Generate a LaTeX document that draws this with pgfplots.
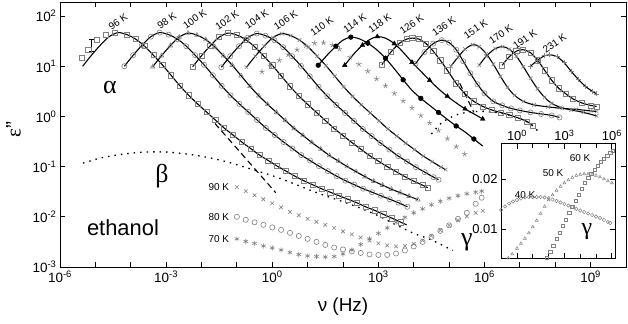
\documentclass[border=0pt]{standalone}
\usepackage{fontspec}
\setmainfont{Liberation Sans}
\newfontfamily\grk{Liberation Serif}
\usepackage{pgfplots}
\pgfplotsset{compat=1.18}
\usepackage{pgfplotstable}
\definecolor{dg}{gray}{0.5}

% x = log10(nu/Hz), y = log10(eps'')
\pgfplotstableread{
x y
-5.36 1.00
-5.11 1.22
-4.86 1.42
-4.61 1.59
-4.36 1.67
-4.11 1.63
-3.86 1.54
-3.61 1.40
-3.36 1.22
-3.11 1.03
-2.86 0.82
-2.61 0.61
-2.36 0.42
-2.11 0.25
-1.86 0.09
-1.61 -0.07
-1.36 -0.23
-1.11 -0.37
-0.86 -0.51
-0.61 -0.64
-0.36 -0.77
-0.11 -0.88
0.14 -0.99
0.39 -1.09
0.64 -1.19
0.89 -1.28
1.14 -1.36
1.39 -1.44
1.64 -1.51
1.89 -1.58
2.14 -1.65
2.39 -1.72
2.64 -1.80
2.89 -1.87
3.14 -1.95
3.39 -2.03
3.64 -2.11
3.80 -2.16
}\tA
\pgfplotstableread{
x y
-5.38 1.17
-5.20 1.33
-4.95 1.53
-4.70 1.62
-4.45 1.67
-4.11 1.63
-3.86 1.54
-3.61 1.40
-3.36 1.22
-3.11 1.03
-2.86 0.82
-2.61 0.61
-2.36 0.42
-2.11 0.25
-1.86 0.09
-1.61 -0.07
-1.36 -0.23
-1.11 -0.37
-0.86 -0.51
-0.61 -0.64
-0.36 -0.77
-0.11 -0.88
0.14 -0.99
0.39 -1.09
0.64 -1.19
0.89 -1.28
1.14 -1.36
1.39 -1.44
1.64 -1.51
1.89 -1.58
2.14 -1.65
2.39 -1.72
2.64 -1.80
2.89 -1.87
3.14 -1.95
3.39 -2.03
3.64 -2.11
}\dA
\pgfplotstableread{
x y
-4.18 1.00
-3.93 1.22
-3.68 1.42
-3.43 1.59
-3.18 1.67
-2.93 1.63
-2.68 1.54
-2.43 1.40
-2.18 1.22
-1.93 1.03
-1.68 0.82
-1.43 0.61
-1.18 0.42
-0.93 0.25
-0.68 0.09
-0.43 -0.07
-0.18 -0.23
0.07 -0.37
0.32 -0.51
0.57 -0.64
0.82 -0.77
1.07 -0.88
1.32 -0.99
1.57 -1.09
1.82 -1.19
2.07 -1.28
2.32 -1.36
2.57 -1.44
2.82 -1.51
3.07 -1.58
3.32 -1.65
3.57 -1.72
3.82 -1.80
}\tB
\pgfplotstableread{
x y
-3.38 0.99
-3.13 1.21
-2.88 1.41
-2.63 1.58
-2.38 1.66
-2.13 1.62
-1.88 1.53
-1.63 1.39
-1.38 1.21
-1.13 1.02
-0.88 0.81
-0.63 0.60
-0.38 0.41
-0.13 0.24
0.12 0.08
0.37 -0.08
0.62 -0.24
0.87 -0.38
1.12 -0.52
1.37 -0.65
1.62 -0.78
1.87 -0.89
2.12 -1.00
2.37 -1.10
2.62 -1.20
2.87 -1.29
3.12 -1.37
3.37 -1.45
3.62 -1.52
3.87 -1.59
4.12 -1.66
}\tC
\pgfplotstableread{
x y
-2.25 0.99
-2.00 1.21
-1.75 1.41
-1.50 1.58
-1.25 1.66
-1.00 1.62
-0.75 1.53
-0.50 1.39
-0.25 1.21
0.00 1.02
0.25 0.81
0.50 0.60
0.75 0.41
1.00 0.24
1.25 0.08
1.50 -0.08
1.75 -0.24
2.00 -0.38
2.25 -0.52
2.50 -0.65
2.75 -0.78
3.00 -0.89
3.25 -1.00
3.50 -1.10
3.75 -1.20
4.00 -1.29
4.25 -1.37
4.40 -1.42
}\tD
\pgfplotstableread{
x y
-1.44 0.98
-1.19 1.20
-0.94 1.40
-0.69 1.57
-0.44 1.65
-0.19 1.61
0.06 1.52
0.31 1.38
0.56 1.20
0.81 1.01
1.06 0.80
1.31 0.59
1.56 0.40
1.81 0.23
2.06 0.07
2.31 -0.09
2.56 -0.25
2.81 -0.39
3.06 -0.53
3.31 -0.66
3.56 -0.79
3.81 -0.90
4.06 -1.01
4.31 -1.11
4.56 -1.21
4.70 -1.26
}\tE
\pgfplotstableread{
x y
-0.73 0.98
-0.48 1.20
-0.23 1.40
0.02 1.57
0.27 1.65
0.52 1.61
0.77 1.52
1.02 1.38
1.27 1.20
1.52 1.01
1.77 0.80
2.02 0.59
2.27 0.40
2.52 0.23
2.77 0.07
3.02 -0.09
3.27 -0.25
3.52 -0.39
3.77 -0.53
4.02 -0.66
4.27 -0.79
4.52 -0.90
4.77 -1.01
4.90 -1.06
}\tF
\pgfplotstableread{
x y
-0.29 0.89
-0.05 1.00
0.20 1.12
0.45 1.23
0.70 1.33
0.95 1.41
1.20 1.46
1.45 1.47
1.70 1.42
1.90 1.34
2.20 1.18
2.45 1.04
2.70 0.90
2.95 0.75
3.20 0.61
3.45 0.46
3.70 0.31
3.95 0.17
4.20 0.02
4.45 -0.13
4.70 -0.28
4.95 -0.44
5.20 -0.60
5.44 -0.75
}\tG
\pgfplotstableread{
x y
1.30 1.02
1.55 1.22
1.80 1.40
2.00 1.52
2.22 1.58
2.45 1.55
2.70 1.46
2.95 1.33
3.20 1.16
3.45 0.95
3.70 0.73
3.95 0.52
4.20 0.36
4.45 0.22
4.70 0.08
4.95 -0.06
5.20 -0.19
5.45 -0.31
5.70 -0.45
5.95 -0.59
}\tH
\pgfplotstableread{
x y
2.05 1.02
2.30 1.24
2.55 1.42
2.75 1.53
2.97 1.59
3.20 1.56
3.45 1.45
3.70 1.28
3.95 1.08
4.20 0.90
4.45 0.72
4.70 0.55
4.95 0.40
5.20 0.27
5.45 0.15
5.70 0.05
5.95 -0.05
}\tI
\pgfplotstableread{
x y
3.10 1.03
3.35 1.28
3.60 1.46
3.80 1.54
3.96 1.56
4.15 1.54
4.35 1.45
4.55 1.30
4.75 1.12
4.95 0.92
5.20 0.66
5.45 0.45
5.70 0.30
5.95 0.20
6.20 0.13
6.45 0.08
6.70 0.03
6.95 -0.03
7.20 -0.10
7.36 -0.18
}\tJ
\pgfplotstableread{
x y
4.05 1.05
4.30 1.28
4.55 1.45
4.79 1.52
5.00 1.47
5.20 1.33
5.40 1.10
5.60 0.86
5.80 0.64
6.00 0.46
6.25 0.30
6.50 0.22
6.75 0.16
7.00 0.12
7.30 0.08
7.60 0.05
7.90 0.02
8.12 -0.02
}\tK
\pgfplotstableread{
x y
5.05 1.00
5.25 1.18
5.45 1.34
5.67 1.43
5.85 1.39
6.05 1.25
6.25 1.04
6.45 0.80
6.65 0.58
6.85 0.42
7.10 0.30
7.40 0.23
7.80 0.19
8.20 0.16
8.60 0.14
9.00 0.11
9.17 0.10
}\tL
\pgfplotstableread{
x y
5.85 1.02
6.05 1.20
6.30 1.35
6.51 1.39
6.70 1.34
6.90 1.20
7.10 0.99
7.30 0.76
7.50 0.55
7.70 0.38
7.90 0.26
8.15 0.18
8.45 0.13
8.80 0.08
9.17 0.01
}\tM
\pgfplotstableread{
x y
6.50 1.02
6.70 1.19
6.90 1.30
7.08 1.33
7.30 1.27
7.50 1.12
7.70 0.92
7.90 0.72
8.10 0.56
8.30 0.45
8.50 0.35
8.75 0.27
9.00 0.22
9.17 0.20
}\tN
\pgfplotstableread{
x y
7.30 1.00
7.50 1.12
7.70 1.21
7.84 1.23
8.05 1.19
8.25 1.07
8.45 0.90
8.65 0.74
8.85 0.60
9.05 0.50
9.17 0.45
}\tO
% low temperature data
\pgfplotstableread{
x y
-1.00 -1.41
-0.75 -1.49
-0.50 -1.57
-0.25 -1.65
0.00 -1.73
0.25 -1.81
0.50 -1.90
0.75 -1.97
1.00 -2.04
1.25 -2.10
1.50 -2.16
1.75 -2.22
2.00 -2.29
2.25 -2.35
2.50 -2.41
2.75 -2.47
3.00 -2.53
3.25 -2.57
3.50 -2.59
3.75 -2.58
4.00 -2.54
4.25 -2.47
4.50 -2.38
4.75 -2.27
5.00 -2.17
5.25 -2.07
5.50 -1.99
5.75 -1.92
5.95 -1.88
}\lNinety
\pgfplotstableread{
x y
-1.00 -2.00
-0.75 -2.06
-0.50 -2.11
-0.25 -2.16
0.00 -2.21
0.25 -2.26
0.50 -2.32
0.75 -2.38
1.00 -2.44
1.25 -2.50
1.50 -2.56
1.75 -2.61
2.00 -2.65
2.25 -2.69
2.50 -2.72
2.75 -2.75
3.00 -2.76
3.25 -2.76
3.50 -2.73
3.75 -2.67
4.00 -2.59
4.25 -2.50
4.50 -2.40
4.75 -2.28
5.00 -2.17
5.25 -2.04
5.50 -1.92
5.75 -1.74
5.92 -1.62
}\lEighty
\pgfplotstableread{
x y
-1.00 -2.44
-0.75 -2.49
-0.50 -2.53
-0.25 -2.58
0.00 -2.62
0.25 -2.66
0.50 -2.71
0.75 -2.75
1.00 -2.78
1.25 -2.79
1.50 -2.80
1.75 -2.79
2.00 -2.74
2.25 -2.66
2.50 -2.55
2.75 -2.44
3.00 -2.33
3.25 -2.22
3.50 -2.11
3.75 -2.01
4.00 -1.92
4.25 -1.84
4.50 -1.76
4.75 -1.69
5.00 -1.63
5.25 -1.58
5.50 -1.54
5.75 -1.51
5.92 -1.49
}\lSeventy
\pgfplotstableread{
x y
-5.35 -0.93
-4.80 -0.82
-4.20 -0.75
-3.60 -0.71
-3.00 -0.71
-2.40 -0.75
-1.80 -0.82
-1.20 -0.92
-0.60 -1.05
0.00 -1.18
0.50 -1.31
1.00 -1.45
1.50 -1.58
2.00 -1.70
2.50 -1.83
3.00 -1.98
3.50 -2.16
4.00 -2.33
4.50 -2.46
5.10 -2.67
}\betaLow
\pgfplotstableread{
x y
4.50 -0.35
4.80 -0.12
5.20 0.03
5.60 0.09
6.00 0.10
6.50 0.06
7.00 -0.04
7.30 -0.15
7.56 -0.33
}\betaHigh
% inset (x = log10 nu, y = eps'')
\pgfplotstableread{
x y
-1.00 0.0138
-0.75 0.0145
-0.50 0.0151
-0.25 0.0155
0.00 0.0158
0.25 0.0161
0.50 0.0163
0.75 0.0164
1.00 0.0164
1.25 0.0164
1.50 0.0164
1.75 0.0163
2.00 0.0162
2.25 0.0159
2.50 0.0156
2.75 0.0153
3.00 0.0150
3.25 0.0147
3.50 0.0144
3.75 0.0140
4.00 0.0137
4.25 0.0134
4.50 0.0131
4.75 0.0128
5.00 0.0125
5.25 0.0122
5.50 0.0118
5.75 0.0114
5.90 0.0112
}\iForty
\pgfplotstableread{
x y
-0.55 0.0042
-0.30 0.0050
0.00 0.0061
0.25 0.0071
0.50 0.0081
0.75 0.0092
1.00 0.0104
1.25 0.0117
1.50 0.0131
1.75 0.0145
2.00 0.0158
2.25 0.0168
2.50 0.0177
2.75 0.0185
3.00 0.0192
3.25 0.0198
3.50 0.0203
3.75 0.0207
4.00 0.0209
4.25 0.0210
4.50 0.0210
4.75 0.0209
5.00 0.0207
5.25 0.0204
5.50 0.0200
5.75 0.0196
6.00 0.0192
}\iFifty
\pgfplotstableread{
x y
1.90 0.0043
2.10 0.0055
2.30 0.0067
2.50 0.0080
2.70 0.0093
2.90 0.0106
3.10 0.0119
3.30 0.0132
3.50 0.0145
3.70 0.0157
3.90 0.0169
4.10 0.0181
4.30 0.0192
4.50 0.0202
4.70 0.0211
4.90 0.0219
5.10 0.0227
5.30 0.0234
5.50 0.0241
5.70 0.0247
5.90 0.0253
6.05 0.0257
}\iSixty

\begin{document}
\begin{tikzpicture}
\useasboundingbox (-60bp,-57bp) rectangle (568bp,267bp);
\begin{axis}[
  at={(0,0)}, anchor=south west,
  scale only axis, width=566bp, height=265bp,
  xmin=-6, xmax=10, ymin=-3, ymax=2.28,
  xtick={-6,-3,0,3,6,9},
  xticklabels={10\textsuperscript{-6},10\textsuperscript{-3},10\textsuperscript{0},10\textsuperscript{3},10\textsuperscript{6},10\textsuperscript{9}},
  minor xtick={-5,-4,-2,-1,1,2,4,5,7,8,10},
  ytick={-3,-2,-1,0,1,2},
  yticklabels={10\textsuperscript{-3},10\textsuperscript{-2},10\textsuperscript{-1},10\textsuperscript{0},10\textsuperscript{1},10\textsuperscript{2}},
  scaled ticks=false,
  tick label style={font=\fontsize{13.5}{15}\selectfont},
  major tick length=5bp, minor tick length=5bp,
  every tick/.style={black, line width=0.8pt},
  axis line style={line width=1pt},
  xlabel={ν (Hz)},
  xlabel style={font=\fontsize{19}{22}\selectfont, at={(axis description cs:0.5,-0.151)}, anchor=center},
  ylabel={{\grk ε}\char34},
  ylabel style={font=\fontsize{21}{23}\selectfont, at={(axis description cs:-0.082,0.52)}, anchor=center},
  gm/.style={dg, only marks, mark size=2.6pt, mark options={line width=0.6pt, fill=white}},
  fit/.style={black, line width=1.1pt, smooth, no marks},
]
% data markers
\addplot[gm, mark=square] table {\dA};
\addplot[gm, mark=o] table {\tB};
\addplot[gm, mark=triangle] table {\tC};
\addplot[gm, mark=square] table {\tD};
\addplot[gm, mark=o] table {\tE};
\addplot[gm, mark=x] table {\tF};
\addplot[gm, mark=star, mark size=2.8pt] table {\tG};
\addplot[gm, mark=square] table {\tJ};
\addplot[gm, mark=o] table {\tK};
\addplot[gm, mark=x] table {\tL};
\addplot[gm, mark=x] table {\tM};
\addplot[gm, mark=square] table {\tN};
\addplot[gm, mark=+] table {\tO};
\addplot[gm, mark=x] table {\lNinety};
\addplot[gm, mark=o] table {\lEighty};
\addplot[gm, mark=asterisk] table {\lSeventy};
% fits
\addplot[fit] table {\tA};
\addplot[fit] table {\tB};
\addplot[fit] table {\tC};
\addplot[fit] table {\tD};
\addplot[fit] table {\tE};
\addplot[fit] table {\tF};
\addplot[fit] table {\tH};
\addplot[fit] table {\tI};
\addplot[fit] table {\tJ};
\addplot[fit] table {\tK};
\addplot[fit] table {\tL};
\addplot[fit] table {\tM};
\addplot[fit] table {\tN};
\addplot[fit] table {\tO};
\addplot[black, only marks, mark=*, mark size=2.4pt, mark repeat=2] table {\tH};
\addplot[black, only marks, mark=triangle*, mark size=2.7pt, mark repeat=2] table {\tI};
% components
\addplot[black, line width=1.3pt, smooth, dash pattern=on 1.5pt off 5pt] table {\betaLow};
\addplot[black, line width=1.3pt, smooth, dash pattern=on 1.5pt off 5pt] table {\betaHigh};
\addplot[black, line width=1.1pt, dash pattern=on 6pt off 4pt] coordinates {(-1.62,-0.14) (0.10,-1.52)};
\addplot[black, line width=1.1pt, dash pattern=on 6pt off 4pt] coordinates {(5.30,0.66) (5.70,0.08)};
\addplot[black, line width=0.8pt, no marks, error bars/.cd, y dir=both, y explicit, error bar style={line width=0.8pt}, error mark options={rotate=90, mark size=2.5pt, line width=0.8pt}] coordinates {(-5.10,1.41) +- (0,0.12)};
% labels
\begin{scope}[every node/.style={rotate=35, font=\fontsize{10}{11}\selectfont}]
\node at (axis cs:-4.36,1.88) {96 K};
\node at (axis cs:-2.98,1.90) {98 K};
\node at (axis cs:-2.19,1.94) {100 K};
\node at (axis cs:-1.28,1.92) {102 K};
\node at (axis cs:-0.44,1.94) {104 K};
\node at (axis cs:0.38,1.92) {106 K};
\node at (axis cs:1.40,1.80) {110 K};
\node at (axis cs:2.33,1.86) {114 K};
\node at (axis cs:3.04,1.86) {118 K};
\node at (axis cs:3.94,1.84) {126 K};
\node at (axis cs:4.85,1.80) {136 K};
\node at (axis cs:5.75,1.74) {151 K};
\node at (axis cs:6.46,1.64) {170 K};
\node at (axis cs:7.14,1.54) {191 K};
\node at (axis cs:7.98,1.45) {231 K};
\end{scope}
\begin{scope}[every node/.style={anchor=east, font=\fontsize{10}{11}\selectfont}]
\node at (axis cs:-1.12,-1.41) {90 K};
\node at (axis cs:-1.12,-2.00) {80 K};
\node at (axis cs:-1.12,-2.44) {70 K};
\end{scope}
\node[font=\fontsize{26}{28}\selectfont\grk] at (axis cs:-4.59,0.57) {α};
\node[font=\fontsize{26}{28}\selectfont\grk] at (axis cs:-3.12,-1.19) {β};
\node[font=\fontsize{26}{28}\selectfont\grk] at (axis cs:5.50,-2.50) {γ};
\node[font=\fontsize{22}{24}\selectfont] at (axis cs:-4.22,-2.22) {ethanol};
\end{axis}
\begin{axis}[
  at={(441bp,9bp)}, anchor=south west,
  scale only axis, width=114bp, height=114bp,
  xmin=-1.01, xmax=6.2, ymin=0.0042, ymax=0.027,
  axis background/.style={fill=white},
  xtick={0,3,6},
  xticklabels={10\textsuperscript{0},10\textsuperscript{3},10\textsuperscript{6}},
  minor xtick={1,2,4,5},
  xticklabel pos=right,
  ytick={0.01,0.02}, yticklabels={0.01,0.02},
  scaled ticks=false,
  tick label style={font=\fontsize{13}{15}\selectfont},
  major tick length=5bp, minor tick length=4bp,
  every tick/.style={black, line width=0.8pt},
  axis line style={line width=1pt},
  im/.style={dg, only marks, mark size=1.7pt, mark options={line width=0.5pt, fill=white}},
]
\addplot[im, mark=o] table {\iForty};
\addplot[im, mark=triangle] table {\iFifty};
\addplot[im, mark=square] table {\iSixty};
\node[font=\fontsize{10}{12}\selectfont] at (axis cs:3.99,0.0242) {60 K};
\node[font=\fontsize{10}{12}\selectfont] at (axis cs:2.28,0.0212) {50 K};
\node[font=\fontsize{10}{12}\selectfont] at (axis cs:0.51,0.0168) {40 K};
\node[font=\fontsize{24}{26}\selectfont\grk] at (axis cs:4.43,0.0094) {γ};
\end{axis}
\end{tikzpicture}
\end{document}
